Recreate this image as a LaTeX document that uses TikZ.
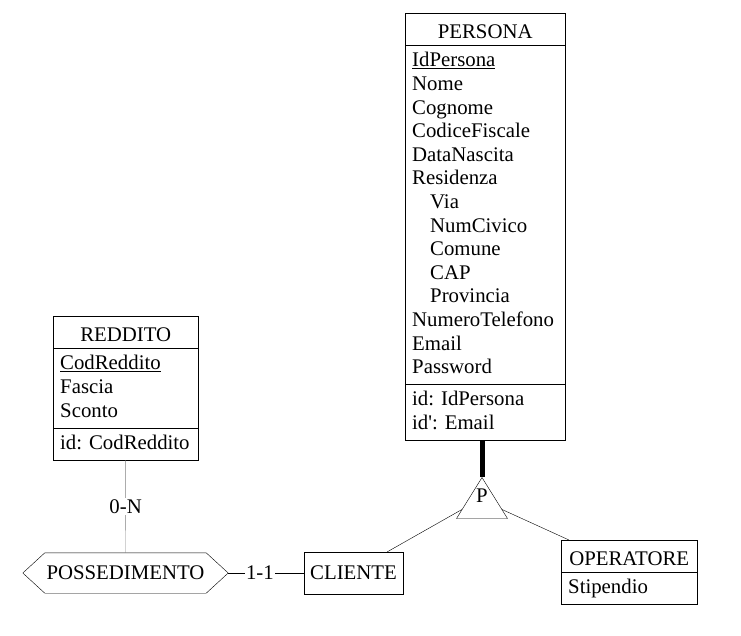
\documentclass[tikz,border=0pt]{standalone}
\usepackage{fontspec}
\setmainfont{Liberation Serif}
\usetikzlibrary{shapes.multipart,shapes.geometric,calc}

\newcommand{\erfont}{\fontsize{20.8}{23.6}\selectfont
  \frenchspacing\hyphenpenalty=10000\relax}
% row strut and title strut
\newcommand{\rs}{\rule[-6.6pt]{0pt}{23.6pt}}
\newcommand{\ts}[1]{\rule[-3pt]{0pt}{24pt}\makebox[\linewidth]{#1}}

\begin{document}
\begin{tikzpicture}[x=1pt,y=-1pt,font=\erfont,
  ent/.style={draw,rectangle split,rectangle split parts=3,
              align=left,inner xsep=7pt,inner ysep=4pt,anchor=north west},
  ent2/.style={ent,rectangle split parts=2},
  rel/.style={minimum width=205pt,minimum height=40pt,inner sep=0pt},
  card/.style={fill=white,text=black,inner sep=1.5pt}]
  \useasboundingbox (0,0) rectangle (741,635);
  % entities
  \node[ent,text width=146pt] (persona) at (405,13)
       {\ts{PERSONA}
        \nodepart{two}\rs\underline{IdPersona}\\\rs Nome\\\rs Cognome\\
        \rs CodiceFiscale\\\rs DataNascita\\\rs Residenza\\
        \rs\hspace*{18pt}Via\\\rs\hspace*{18pt}NumCivico\\
        \rs\hspace*{18pt}Comune\\\rs\hspace*{18pt}CAP\\
        \rs\hspace*{18pt}Provincia\\\rs NumeroTelefono\\\rs Email\\
        \rs Password
        \nodepart{three}\rs id: IdPersona\\
        \rs id\textquotesingle: Email};
  \node[ent,text width=131pt] (reddito) at (53,316)
       {\ts{REDDITO}
        \nodepart{two}\rs\underline{CodReddito}\\\rs Fascia\\\rs Sconto
        \nodepart{three}\rs id: CodReddito};
  \node[ent2,text width=122pt] (oper) at (561,540)
       {\ts{OPERATORE}
        \nodepart{two}\rs Stipendio};
  \node[draw,minimum width=99pt,minimum height=42pt] (cli) at (353.5,573)
       {CLIENTE};
  % relationship (hexagon) and generalisation
  \node[rel] (poss) at (125.5,573) {POSSEDIMENTO};
  \draw (poss.west) -- ([xshift=22pt]poss.north west)
        -- ([xshift=-22pt]poss.north east) -- (poss.east)
        -- ([xshift=-22pt]poss.south east)
        -- ([xshift=22pt]poss.south west) -- cycle;
  \node[draw,isosceles triangle,shape border rotate=90,
        isosceles triangle stretches,minimum width=51pt,minimum height=41pt,
        inner sep=0pt,anchor=apex] (tri) at (482,477) {};
  \node (p) at ($(tri.apex)+(0,19)$) {P};
  % connectors
  \draw[gray] (reddito.south) -- node[card]{0-N} (poss.north);
  \draw (poss.east) -- node[card,pos=0.42]{1-1} (cli.west);
  \draw[line width=5pt] (tri.apex) -- (tri.apex |- persona.south);
  \draw ($(tri.apex)!0.78!(tri.left corner)$)
        -- ($(cli.north west)!0.84!(cli.north east)$);
  \draw ($(tri.apex)!0.78!(tri.right corner)$)
        -- ([xshift=8pt]oper.north west);
\end{tikzpicture}
\end{document}
